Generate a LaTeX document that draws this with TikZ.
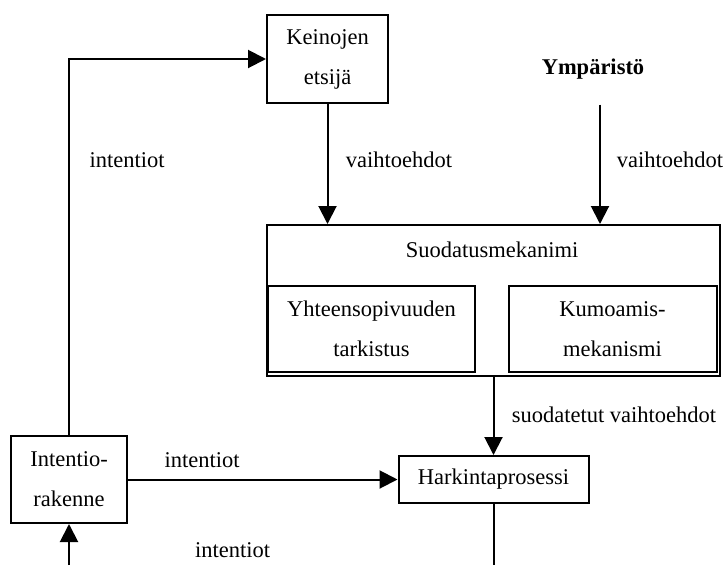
\documentclass[tikz,border=0pt]{standalone}
\usepackage{fontspec}
\setmainfont{Liberation Serif}
\usetikzlibrary{arrows.meta}
\begin{document}
\begin{tikzpicture}[x=1pt,y=-1pt,
  every node/.style={font=\fontsize{22.5}{40}\selectfont},
  box/.style={draw,line width=2pt,rectangle,inner sep=0pt,align=center},
  arr/.style={line width=2pt,-{Triangle[length=18pt,width=18pt]}},
  plain/.style={line width=2pt},
  lbl/.style={inner sep=0pt}]
\useasboundingbox (0,0) rectangle (725,565);

% boxes
\node[box,minimum width=121pt,minimum height=88pt] (kein) at (327.5,59) {Keinojen\\etsijä};
\node[lbl,font=\fontsize{22.5}{40}\selectfont\bfseries] (ymp) at (593,69) {Ympäristö};
\node[box,minimum width=453pt,minimum height=151pt] (suod) at (493.5,300.5) {};
\node[lbl] (suodt) at (492,250) {Suodatusmekanimi};
\node[box,minimum width=207pt,minimum height=86pt] (yht) at (371.5,329) {Yhteensopivuuden\\tarkistus};
\node[box,minimum width=208pt,minimum height=86pt] (kum) at (612.5,329) {Kumoamis-\\mekanismi};
\node[box,minimum width=190pt,minimum height=47pt] (hark) at (493.5,479.5) {Harkintaprosessi};
\node[box,minimum width=116pt,minimum height=87pt] (int) at (69,479.5) {Intentio-\\rakenne};

% free ends
\coordinate (ympa) at (600,104.5);
\coordinate (bl) at (69,565);
\coordinate (br) at (493.5,565);

% connectors
\draw[arr] (int.north) |- (kein.west);
\draw[arr] (kein.south) -- (kein.south |- suod.north);
\draw[arr] (ympa) -- (ympa |- suod.north);
\draw[arr] (suod.south) -- (hark.north);
\draw[arr] (int.east) -- (hark.west);
\draw[arr] (bl) -- (int.south);
\draw[plain] (hark.south) -- (br);

% connector labels
\node[lbl] (l1) at (127,160) {intentiot};
\node[lbl] (l2) at (399,160) {vaihtoehdot};
\node[lbl] (l3) at (670,160) {vaihtoehdot};
\node[lbl] (l4) at (614,415) {suodatetut vaihtoehdot};
\node[lbl] (l5) at (202,460.5) {intentiot};
\node[lbl] (l6) at (232.5,550.6) {intentiot};
\end{tikzpicture}
\end{document}
